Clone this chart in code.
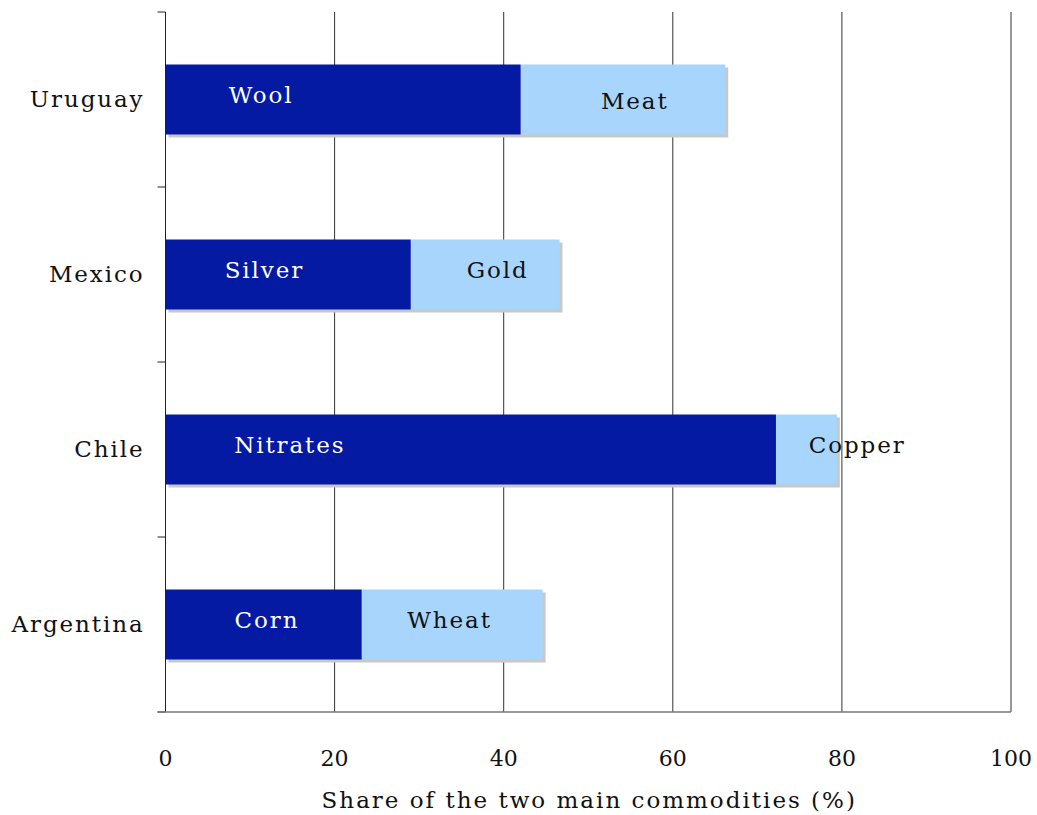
<!DOCTYPE html>
<html>
<head>
<meta charset="utf-8">
<script src="https://cdn.jsdelivr.net/npm/d3@7"></script>
<style>
  body { margin: 0; background: #fff; }
  text { font-family: 'DejaVu Serif', serif; }
</style>
</head>
<body>
<div id="chart"></div>
<script>
// data
var countries = ['Uruguay', 'Mexico', 'Chile', 'Argentina']
var mainNames = ['Wool', 'Silver', 'Nitrates', 'Corn']
var mainShare = [42, 29, 72.2, 23.2]
var secondNames = ['Meat', 'Gold', 'Copper', 'Wheat']
var secondShare = [24.2, 17.6, 7.2, 21.4]
// where each label sits, in % units
var mainLabelAt = [11.3, 11.7, 14.7, 12]
var secondLabelAt = [55.5, 39.3, 81.8, 33.6]
var xTicks = [0, 20, 40, 60, 80, 100]

var width = 1037
var height = 815
var margin = { top: 12, right: 26, bottom: 103, left: 165.5 }
var fontSize = 23
var spacing = 1.9

var x = d3
  .scaleLinear()
  .domain([0, 100])
  .range([margin.left, width - margin.right])
var y = d3
  .scaleBand()
  .domain(countries)
  .range([margin.top, height - margin.bottom])
  .paddingInner(0.6)
  .paddingOuter(0.3)

var svg = d3
  .select('#chart')
  .append('svg')
  .attr('width', width)
  .attr('height', height)

var rows = countries.map(function(c, i) {
  return {
    country: c,
    a: mainShare[i],
    b: secondShare[i],
    nameA: mainNames[i],
    nameB: secondNames[i],
    atA: mainLabelAt[i],
    atB: secondLabelAt[i]
  }
})

// vertical grid lines
svg
  .append('g')
  .selectAll('line')
  .data(xTicks.slice(1))
  .enter()
  .append('line')
  .attr('x1', function(d) { return x(d) })
  .attr('x2', function(d) { return x(d) })
  .attr('y1', margin.top)
  .attr('y2', height - margin.bottom)
  .attr('stroke', '#333')
  .attr('stroke-width', 1)

// shadows
svg
  .append('g')
  .selectAll('rect')
  .data(rows)
  .enter()
  .append('rect')
  .attr('x', x(0) + 3)
  .attr('y', function(d) { return y(d.country) + 3 })
  .attr('width', function(d) { return x(d.a + d.b) - x(0) })
  .attr('height', y.bandwidth())
  .attr('fill', '#c8c8c8')

var bars = svg.append('g')
bars
  .selectAll('rect.second')
  .data(rows)
  .enter()
  .append('rect')
  .attr('class', 'second')
  .attr('x', function(d) { return x(d.a) })
  .attr('y', function(d) { return y(d.country) })
  .attr('width', function(d) { return x(d.a + d.b) - x(d.a) })
  .attr('height', y.bandwidth())
  .attr('fill', '#a8d5fc')
bars
  .selectAll('rect.main')
  .data(rows)
  .enter()
  .append('rect')
  .attr('class', 'main')
  .attr('x', x(0))
  .attr('y', function(d) { return y(d.country) })
  .attr('width', function(d) { return x(d.a) - x(0) })
  .attr('height', y.bandwidth())
  .attr('fill', '#041aa2')

// labels inside the bars
var labels = svg
  .append('g')
  .attr('font-size', fontSize)
  .attr('letter-spacing', spacing)
labels
  .selectAll('text.main')
  .data(rows)
  .enter()
  .append('text')
  .attr('x', function(d) { return x(d.atA) })
  .attr('y', function(d) { return y(d.country) + y.bandwidth() / 2 + 3 })
  .attr('text-anchor', 'middle')
  .attr('fill', '#fff')
  .text(function(d) { return d.nameA })
labels
  .selectAll('text.second')
  .data(rows)
  .enter()
  .append('text')
  .attr('x', function(d) { return x(d.atB) })
  .attr('y', function(d, i) {
    return y(d.country) + y.bandwidth() / 2 + (i === 0 ? 9 : 3)
  })
  .attr('text-anchor', 'middle')
  .attr('fill', '#111')
  .text(function(d) { return d.nameB })

// left axis: line, ticks between bands, country names
var left = svg.append('g')
left
  .append('line')
  .attr('x1', x(0))
  .attr('x2', x(0))
  .attr('y1', margin.top)
  .attr('y2', height - margin.bottom)
  .attr('stroke', '#222')
var edges = countries.map(function(c) { return y(c) - y.step() * 0.3 })
edges.push(height - margin.bottom)
left
  .selectAll('line.tick')
  .data(edges)
  .enter()
  .append('line')
  .attr('class', 'tick')
  .attr('x1', x(0) - 8)
  .attr('x2', x(0))
  .attr('y1', function(d) { return d })
  .attr('y2', function(d) { return d })
  .attr('stroke', '#222')
left
  .selectAll('text')
  .data(countries)
  .enter()
  .append('text')
  .attr('x', x(0) - 21)
  .attr('y', function(d) { return y(d) + y.bandwidth() / 2 + 7 })
  .attr('text-anchor', 'end')
  .attr('font-size', fontSize)
  .attr('letter-spacing', spacing)
  .attr('fill', '#111')
  .text(function(d) { return d })

// bottom axis
var bottom = svg.append('g')
bottom
  .append('line')
  .attr('x1', x(0) - 8)
  .attr('x2', x(100))
  .attr('y1', height - margin.bottom)
  .attr('y2', height - margin.bottom)
  .attr('stroke', '#777')
  .attr('stroke-width', 1.5)
bottom
  .selectAll('text')
  .data(xTicks)
  .enter()
  .append('text')
  .attr('x', function(d) { return x(d) })
  .attr('y', 766)
  .attr('text-anchor', 'middle')
  .attr('font-size', 22)
  .attr('fill', '#111')
  .text(function(d) { return d })
bottom
  .append('text')
  .attr('x', (x(0) + x(100)) / 2 + 1)
  .attr('y', 808)
  .attr('text-anchor', 'middle')
  .attr('font-size', fontSize)
  .attr('letter-spacing', 2)
  .attr('fill', '#111')
  .text('Share of the two main commodities (%)')
</script>
</body>
</html>
